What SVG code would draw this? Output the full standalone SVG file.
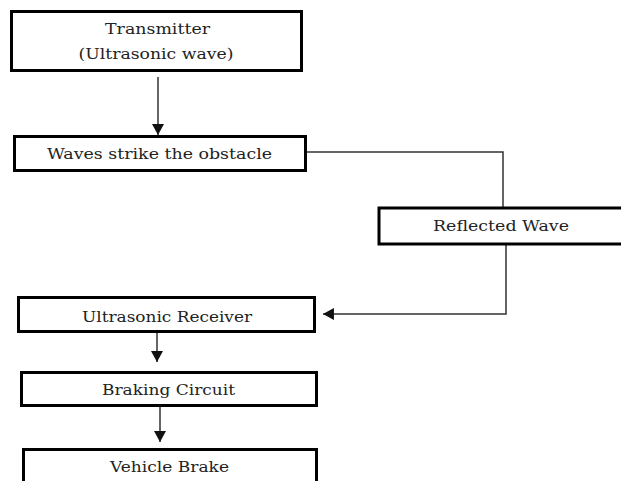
<svg xmlns="http://www.w3.org/2000/svg" width="621" height="481" viewBox="0 0 621 481">
<style>
.box{fill:#fff;stroke:#000;stroke-width:3}
.lbl{font-family:"DejaVu Serif","Liberation Serif",serif;font-size:15.5px;fill:#222;text-anchor:middle}
.con{fill:none;stroke:#333;stroke-width:1.5}
</style>
<defs>
<marker id="ah" markerUnits="userSpaceOnUse" markerWidth="12" markerHeight="12" viewBox="0 0 10 11" refX="10" refY="5.5" orient="auto">
<path d="M0,0 L10,5.5 L0,11 Z" fill="#111"/>
</marker>
</defs>
<rect width="621" height="481" fill="#fff"/>
<g id="connectors">
<line class="con" x1="158" y1="77" x2="158" y2="135" marker-end="url(#ah)"/>
<polyline class="con" points="307,152 503,152 503,207"/>
<polyline class="con" points="506,245 506,314 323,314" marker-end="url(#ah)"/>
<line class="con" x1="157" y1="333" x2="157" y2="362" marker-end="url(#ah)"/>
<line class="con" x1="160" y1="407" x2="160" y2="442" marker-end="url(#ah)"/>
</g>
<g id="transmitter">
<rect class="box" x="11.5" y="11.5" width="290" height="59"/>
<text class="lbl" x="157.5" y="34" textLength="105" lengthAdjust="spacingAndGlyphs">Transmitter</text>
<text class="lbl" x="156" y="59" textLength="155" lengthAdjust="spacingAndGlyphs">(Ultrasonic wave)</text>
</g>
<g id="strike">
<rect class="box" x="14.5" y="136.5" width="291" height="34"/>
<text class="lbl" x="159.5" y="159" textLength="225" lengthAdjust="spacingAndGlyphs">Waves strike the obstacle</text>
</g>
<g id="reflected">
<rect class="box" x="379" y="208" width="260" height="36"/>
<text class="lbl" x="501" y="231" textLength="136" lengthAdjust="spacingAndGlyphs">Reflected Wave</text>
</g>
<g id="receiver">
<rect class="box" x="18.5" y="297.5" width="296" height="34"/>
<text class="lbl" x="167" y="322" textLength="170" lengthAdjust="spacingAndGlyphs">Ultrasonic Receiver</text>
</g>
<g id="braking">
<rect class="box" x="21.5" y="372.5" width="295" height="33"/>
<text class="lbl" x="168.5" y="395" textLength="133" lengthAdjust="spacingAndGlyphs">Braking Circuit</text>
</g>
<g id="brake">
<rect class="box" x="23.5" y="449.5" width="293" height="60"/>
<text class="lbl" x="169.5" y="472" textLength="119" lengthAdjust="spacingAndGlyphs">Vehicle Brake</text>
</g>
</svg>
